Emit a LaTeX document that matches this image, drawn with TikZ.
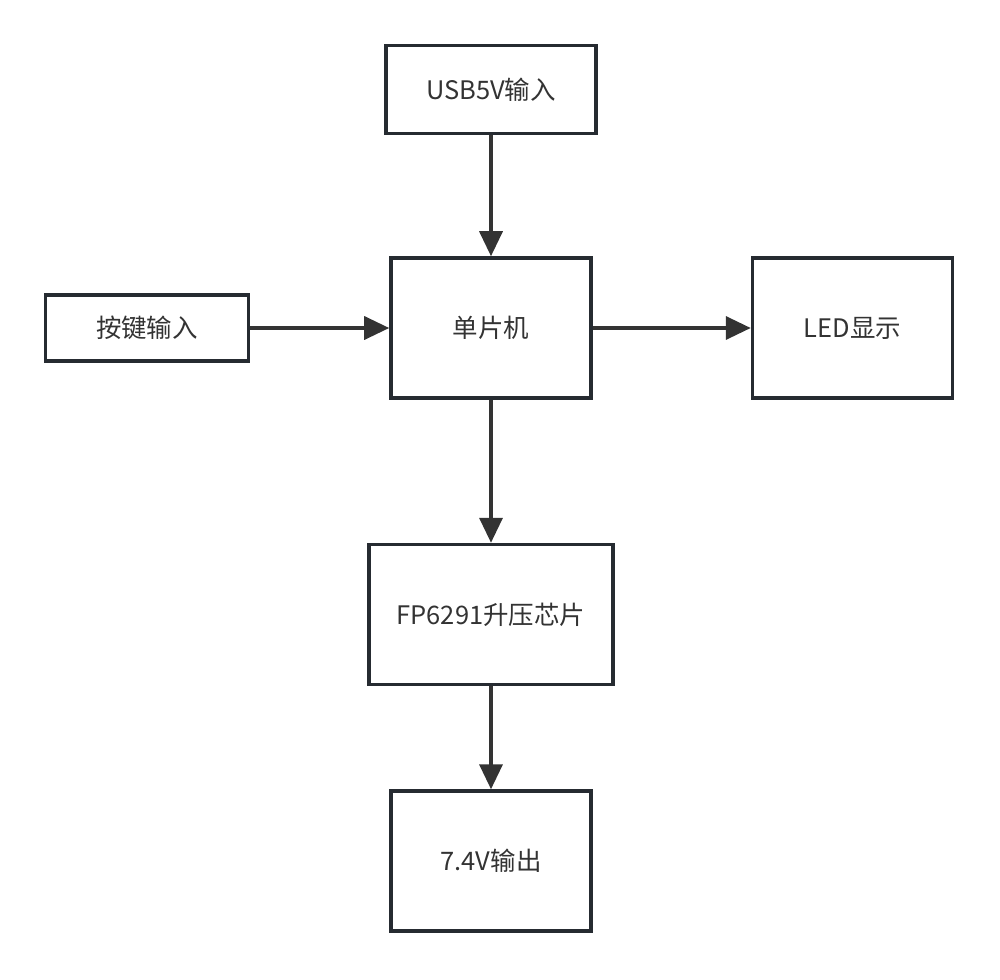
\documentclass[tikz,border=0pt]{standalone}
\usepackage{fontspec}
\setmainfont{Noto Sans CJK SC}
\usetikzlibrary{positioning}
\usetikzlibrary{arrows.meta}
\definecolor{boxline}{HTML}{262B31}
\definecolor{arrowcol}{HTML}{333333}
\tikzset{
    blk/.style={draw=boxline, line width=2pt, minimum width=4cm, minimum height=2.8cm, font=\fontsize{14.5}{17}\selectfont, text=arrowcol},
    link/.style={draw=arrowcol, line width=2pt, -{Triangle[length=0.5cm, width=0.46cm]}}
}
\begin{document}
\begin{tikzpicture}
        \useasboundingbox (0,0) rectangle (20,-19.6);
        \node (mcu) [blk] at (9.82,-6.56) {单片机};
        \node (usb) [blk, above=2.42cm of mcu, minimum width=4.2cm, minimum height=1.76cm] {USB5V输入};
        \node (key) [blk, left=2.78cm of mcu, minimum width=4.06cm, minimum height=1.32cm] {按键输入};
        \node (led) [blk, right=3.16cm of mcu] {LED显示};
        \node (fp) [blk, below=2.86cm of mcu, minimum width=4.88cm] {FP6291升压芯片};
        \node (out) [blk, below=2.06cm of fp] {7.4V输出};
        \draw [link] (usb) -- (mcu);
        \draw [link] (key) -- (mcu);
        \draw [link] (mcu) -- (led);
        \draw [link] (mcu) -- (fp);
        \draw [link] (fp) -- (out);
    \end{tikzpicture}
\end{document}
